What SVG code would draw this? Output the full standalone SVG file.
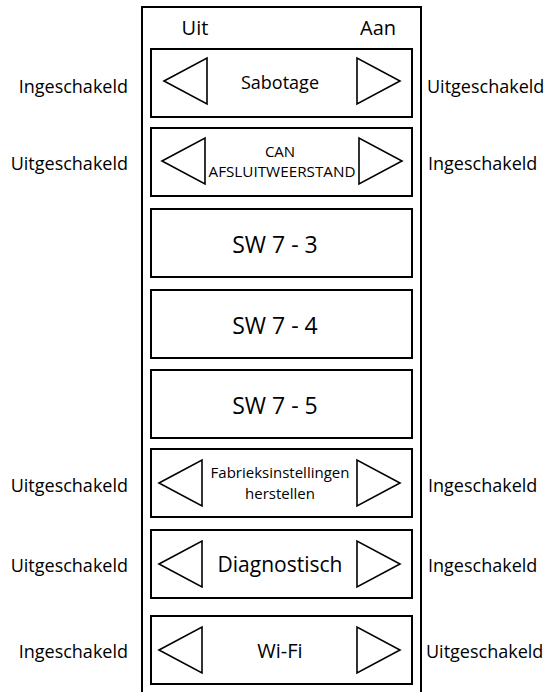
<svg xmlns="http://www.w3.org/2000/svg" width="547" height="692" viewBox="0 0 547 692">
<style>
  .frame{fill:none;stroke:#000;stroke-width:2}
  .box{fill:#fff;stroke:#000;stroke-width:2}
  .tri{fill:#fff;stroke:#000;stroke-width:1.6;stroke-linejoin:miter}
  text{font-family:"Open Sans","Noto Sans","DejaVu Sans",sans-serif;fill:#000}
  .side{font-size:18px}
  .l{text-anchor:end}
  .m{text-anchor:middle}
  .hdr{font-size:20px}
  .big{font-size:23px}
</style>
<defs>
  <polygon id="tl" class="tri" points="0,0 43,-23 43,23"/>
  <polygon id="tr" class="tri" points="0,-23 0,23 43,0"/>
</defs>
<rect class="frame" x="142" y="7" width="279" height="700"/>
<g id="header">
  <text class="hdr m" x="195" y="35">Uit</text>
  <text class="hdr m" x="378" y="35">Aan</text>
</g>
<g id="sabotage">
  <rect class="box" x="151" y="49" width="261" height="68"/>
  <use href="#tl" x="164" y="81"/>
  <use href="#tr" x="357" y="81"/>
  <text class="m" x="280" y="89" font-size="18">Sabotage</text>
  <text class="side l" x="128" y="93">Ingeschakeld</text>
  <text class="side" x="427" y="93">Uitgeschakeld</text>
</g>
<g id="can">
  <rect class="box" x="151" y="128" width="261" height="68"/>
  <use href="#tl" x="162" y="161"/>
  <use href="#tr" x="359" y="161"/>
  <text class="m" x="280" y="157" font-size="15">CAN</text>
  <text class="m" x="282" y="177" font-size="15" textLength="147" lengthAdjust="spacingAndGlyphs">AFSLUITWEERSTAND</text>
  <text class="side l" x="128" y="170">Uitgeschakeld</text>
  <text class="side" x="428" y="170">Ingeschakeld</text>
</g>
<g id="sw73">
  <rect class="box" x="151" y="209" width="261" height="68"/>
  <text class="big m" x="275" y="253">SW 7 - 3</text>
</g>
<g id="sw74">
  <rect class="box" x="151" y="290" width="261" height="68"/>
  <text class="big m" x="275" y="334">SW 7 - 4</text>
</g>
<g id="sw75">
  <rect class="box" x="151" y="370" width="261" height="68"/>
  <text class="big m" x="275" y="414">SW 7 - 5</text>
</g>
<g id="fabrieks">
  <rect class="box" x="151" y="449" width="261" height="68"/>
  <use href="#tl" x="159" y="483"/>
  <use href="#tr" x="357" y="483"/>
  <text class="m" x="280" y="478" font-size="15">Fabrieksinstellingen</text>
  <text class="m" x="280" y="499" font-size="15">herstellen</text>
  <text class="side l" x="128" y="492">Uitgeschakeld</text>
  <text class="side" x="428" y="492">Ingeschakeld</text>
</g>
<g id="diagnostisch">
  <rect class="box" x="151" y="530" width="261" height="68"/>
  <use href="#tl" x="159" y="564"/>
  <use href="#tr" x="357" y="564"/>
  <text class="m" x="280" y="572" font-size="21">Diagnostisch</text>
  <text class="side l" x="128" y="572">Uitgeschakeld</text>
  <text class="side" x="428" y="572">Ingeschakeld</text>
</g>
<g id="wifi">
  <rect class="box" x="151" y="616" width="261" height="68"/>
  <use href="#tl" x="159" y="650"/>
  <use href="#tr" x="357" y="650"/>
  <text class="m" x="280" y="658" font-size="20">Wi-Fi</text>
  <text class="side l" x="128" y="658">Ingeschakeld</text>
  <text class="side" x="426" y="658">Uitgeschakeld</text>
</g>
<g id="connectors"></g>
</svg>
